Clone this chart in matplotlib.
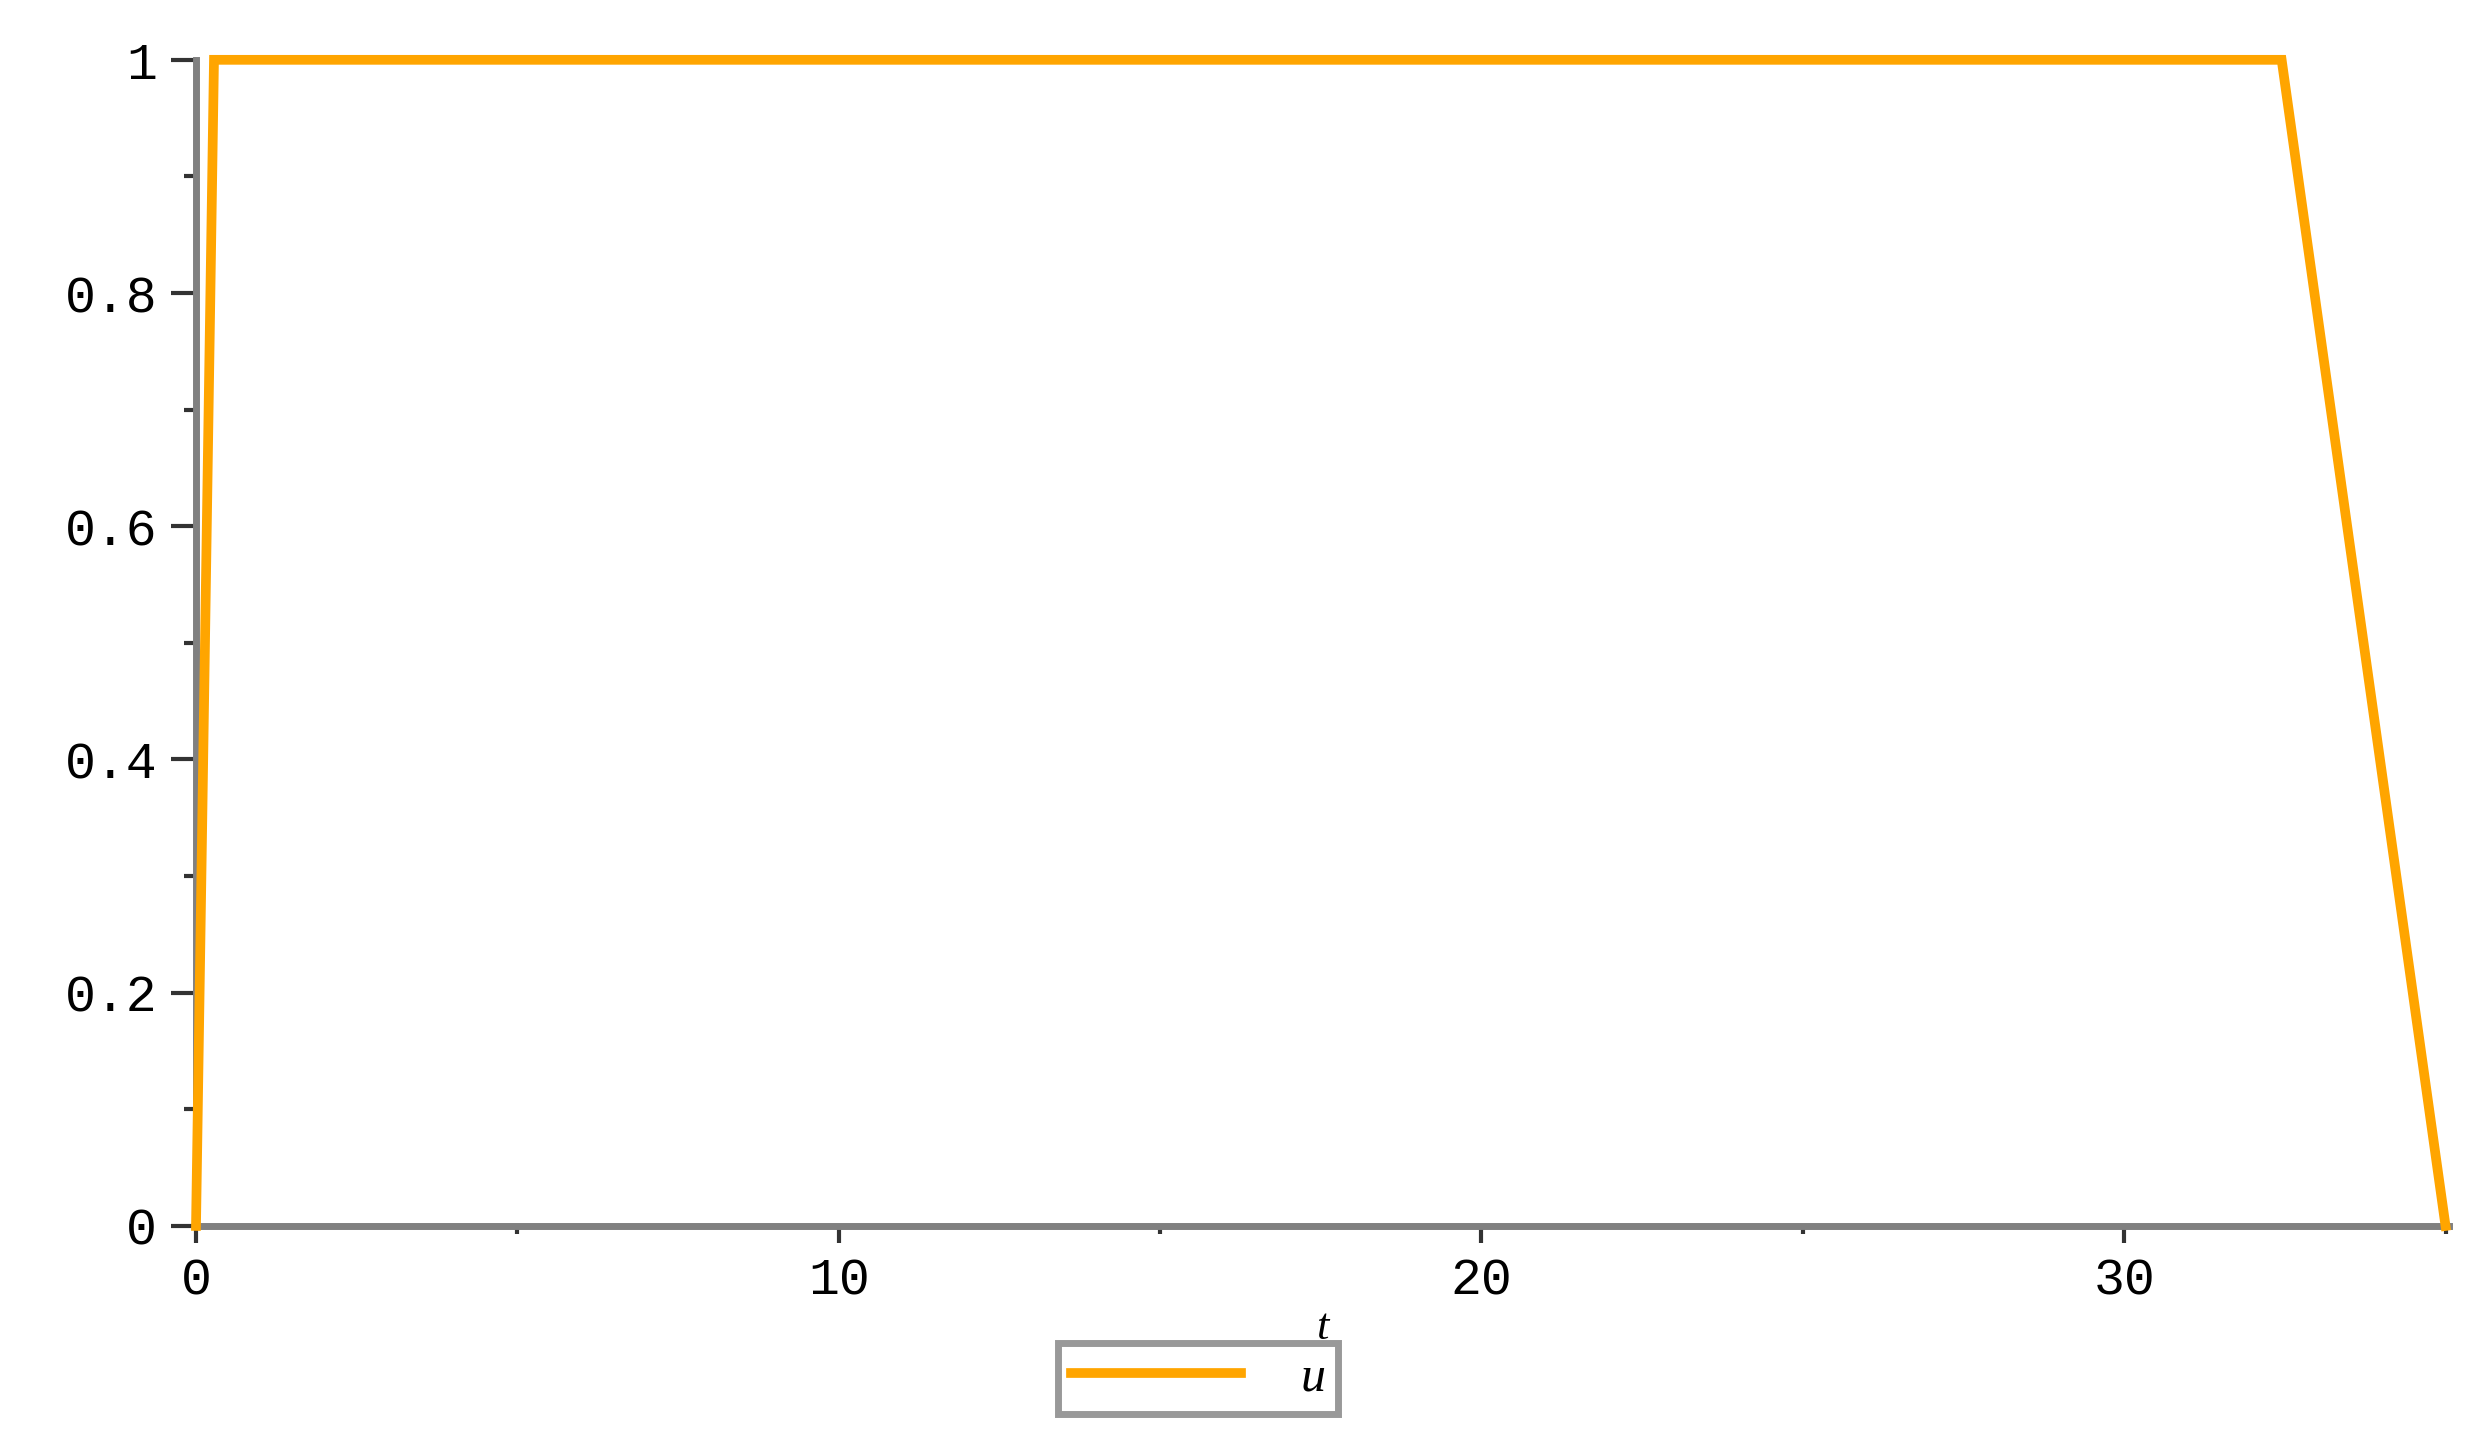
import matplotlib
matplotlib.use("Agg")
import matplotlib.pyplot as plt
from matplotlib.ticker import MultipleLocator

# control signal u(t)
t_vals = [0.0, 0.28, 32.45, 35.0]
u_vals = [0.0, 1.0, 1.0, 0.0]

fig = plt.figure(figsize=(24.81, 14.45), dpi=100)
ax = fig.add_axes([0.079, 0.1516, 0.908, 0.807])

line, = ax.plot(t_vals, u_vals, color="#FFA500", lw=7, solid_joinstyle="miter",
                clip_on=False, zorder=3, label="u")

ax.set_xlim(0, 35.05)
ax.set_ylim(0, 1)

for side in ["top", "right"]:
    ax.spines[side].set_visible(False)
for side in ["left", "bottom"]:
    ax.spines[side].set_color("#808080")
    ax.spines[side].set_linewidth(5)

ax.xaxis.set_major_locator(MultipleLocator(10))
ax.xaxis.set_minor_locator(MultipleLocator(5))
ax.yaxis.set_major_locator(MultipleLocator(0.2))
ax.yaxis.set_minor_locator(MultipleLocator(0.1))
ax.yaxis.set_major_formatter(lambda v, p: "1" if abs(v - 1) < 1e-9 else ("0" if abs(v) < 1e-9 else f"{v:.1f}"))

ax.tick_params(axis="x", which="major", direction="out", length=12, width=3, color="#333333", pad=10)
ax.tick_params(axis="x", which="minor", direction="out", length=6, width=3, color="#333333")
ax.tick_params(axis="y", which="major", direction="out", length=18, width=3, color="#333333", pad=10)
ax.tick_params(axis="y", which="minor", direction="out", length=9, width=3, color="#333333")
for lab in ax.get_xticklabels() + ax.get_yticklabels():
    lab.set_fontfamily("Liberation Mono")
    lab.set_fontsize(37)

ax.set_xlabel("t", fontsize=32, fontstyle="italic", family="Liberation Serif", labelpad=2)

leg = fig.legend(handles=[line], loc="center", bbox_to_anchor=(0.483, 0.046),
                 prop={"family": "Liberation Serif", "style": "italic", "size": 36},
                 frameon=True, fancybox=False, handlelength=3.4, handletextpad=1.2,
                 borderpad=0.25, borderaxespad=0)
leg.get_frame().set_edgecolor("#808080")
leg.get_frame().set_linewidth(5)

fig.savefig("out.png", dpi=100)
